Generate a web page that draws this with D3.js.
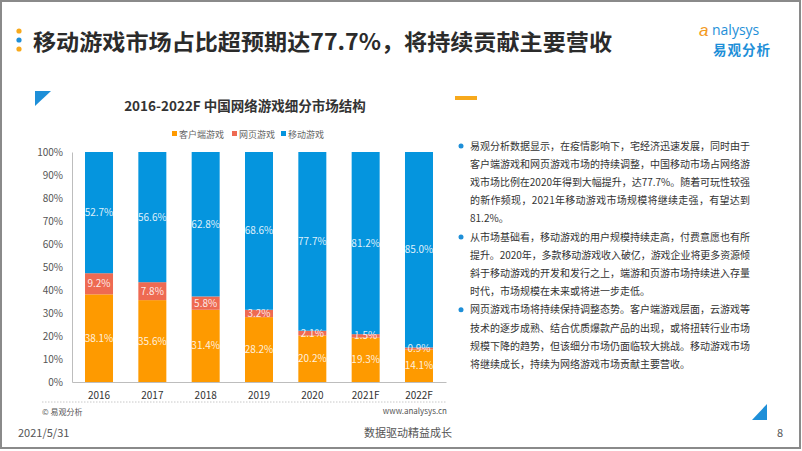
<!DOCTYPE html>
<html><head><meta charset="utf-8">
<script src="https://cdn.jsdelivr.net/npm/d3@7"></script>
<style>
html,body{margin:0;padding:0;background:#fff;}
svg{display:block;font-family:"Noto Sans CJK SC","Noto Sans",sans-serif;}
</style></head>
<body><svg id="c" width="802" height="451"></svg>
<script>
const categories = ["2016","2017","2018","2019","2020","2021F","2022F"];
const seriesNames = ["客户端游戏","网页游戏","移动游戏"];
const clientGame = [38.1,35.6,31.4,28.2,20.2,19.3,14.1];
const webGame = [9.2,7.8,5.8,3.2,2.1,1.5,0.9];
const mobileGame = [52.7,56.6,62.8,68.6,77.7,81.2,85.0];
const yTicks = [0,10,20,30,40,50,60,70,80,90,100];
const colors = ["#FE9A00","#EE6A52","#0595DE"];
const mainTitle = "移动游戏市场占比超预期达77.7%，将持续贡献主要营收";
const chartTitle = "2016-2022F 中国网络游戏细分市场结构";
const bulletLines = [
  {b:true, full:true, t:"易观分析数据显示，在疫情影响下，宅经济迅速发展，同时由于"},
  {b:false, full:true, t:"客户端游戏和网页游戏市场的持续调整，中国移动市场占网络游"},
  {b:false, full:true, t:"戏市场比例在2020年得到大幅提升，达77.7%。随着可玩性较强"},
  {b:false, full:true, t:"的新作频现，2021年移动游戏市场规模将继续走强，有望达到"},
  {b:false, full:false, t:"81.2%。"},
  {b:true, full:true, t:"从市场基础看，移动游戏的用户规模持续走高，付费意愿也有所"},
  {b:false, full:true, t:"提升。2020年，多款移动游戏收入破亿，游戏企业将更多资源倾"},
  {b:false, full:true, t:"斜于移动游戏的开发和发行之上，端游和页游市场持续进入存量"},
  {b:false, full:false, t:"时代，市场规模在未来或将进一步走低。"},
  {b:true, full:true, t:"网页游戏市场将持续保持调整态势。客户端游戏层面，云游戏等"},
  {b:false, full:true, t:"技术的逐步成熟、结合优质爆款产品的出现，或将扭转行业市场"},
  {b:false, full:true, t:"规模下降的趋势，但该细分市场仍面临较大挑战。移动游戏市场"},
  {b:false, full:false, t:"将继续成长，持续为网络游戏市场贡献主要营收。"}
];

const svg = d3.select("#c");

// frame
svg.append("rect").attr("x",1).attr("y",1).attr("width",799).attr("height",447)
  .attr("fill","none").attr("stroke","#8a8a8a").attr("stroke-width",2);

// title dots
[["#F7A91C",31],["#1E8FD8",40],["#F7A91C",49]].forEach(d=>{
  svg.append("circle").attr("cx",19).attr("cy",d[1]).attr("r",2.6).attr("fill",d[0]);
});
svg.append("text").attr("x",33).attr("y",50).attr("font-size",22).attr("font-weight","bold")
  .attr("fill","#2b2b2b").attr("textLength",579).attr("lengthAdjust","spacingAndGlyphs").text(mainTitle);

// logo
const logo = svg.append("g");
logo.append("text").attr("x",699).attr("y",36).attr("font-size",17).attr("fill","#F39A1E")
  .attr("font-family","Liberation Sans").attr("font-style","italic").text("a");
logo.append("text").attr("x",712).attr("y",35).attr("font-size",14).attr("fill","#1E8FD8")
  .attr("font-family","Open Sans, sans-serif").text("nalysys");
logo.append("text").attr("x",713).attr("y",55).attr("font-size",13.5).attr("fill","#1E8FD8")
  .attr("font-weight","bold").attr("letter-spacing",1).text("易观分析");

// decorations
svg.append("path").attr("d","M35,91 L51,91 L35,106 Z").attr("fill","#1E8FD8");
svg.append("rect").attr("x",455).attr("y",96).attr("width",22).attr("height",4).attr("fill","#F7A91C");
svg.append("path").attr("d","M752,420 L767,404 L767,420 Z").attr("fill","#1E8FD8");

// chart title
svg.append("text").attr("x",245).attr("y",111).attr("text-anchor","middle")
  .attr("font-size",13.5).attr("font-weight","bold").attr("fill","#333").text(chartTitle);

// legend
const legX = [172,232,281];
seriesNames.forEach((n,i)=>{
  svg.append("rect").attr("x",legX[i]).attr("y",131).attr("width",5).attr("height",5).attr("fill",colors[i]);
  svg.append("text").attr("x",legX[i]+7).attr("y",137.5).attr("font-size",9).attr("fill","#666").text(n);
});

// scales
const x = d3.scaleBand().domain(categories).range([72,446]).paddingInner(0.475).paddingOuter(0.244);
const y = d3.scaleLinear().domain([0,100]).range([382,152]).clamp(true);

// y axis
const yAxis = svg.append("g").attr("transform","translate(72,0)")
  .call(d3.axisLeft(y).tickValues(yTicks).tickSize(0).tickPadding(9).tickFormat(d=>d+"%"));
yAxis.select(".domain").attr("stroke","#bdbdbd");
yAxis.selectAll("text").attr("font-size",10).attr("fill","#555").attr("font-family","Noto Sans CJK SC");

// x axis
const xAxis = svg.append("g").attr("transform","translate(0,382)")
  .call(d3.axisBottom(x).tickSize(0).tickPadding(10));
xAxis.select(".domain").attr("stroke","#bdbdbd");
xAxis.selectAll("text").attr("font-size",10).attr("fill","#333").attr("font-family","Noto Sans CJK SC");

// stacked bars
const rows = categories.map((c,i)=>({cat:c, s0:clientGame[i], s1:webGame[i], s2:mobileGame[i]}));
const stack = d3.stack().keys(["s0","s1","s2"])(rows);
const barG = svg.append("g");
stack.forEach((layer,li)=>{
  layer.forEach(d=>{
    const y0 = y(d[0]), y1 = y(d[1]);
    barG.append("rect").attr("x",x(d.data.cat)).attr("width",x.bandwidth())
      .attr("y",y1).attr("height",Math.max(0,y0-y1)).attr("fill",colors[li]);
  });
});
stack.forEach((layer,li)=>{
  layer.forEach(d=>{
    const y0 = y(d[0]), y1 = y(d[1]);
    const v = d.data[layer.key];
    barG.append("text").attr("x",x(d.data.cat)+x.bandwidth()/2).attr("y",(y0+y1)/2+3.5)
      .attr("text-anchor","middle").attr("font-size",10).attr("fill","#ffffff").attr("fill-opacity",0.88)
      .text(v.toFixed(1)+"%");
  });
});

// dashed separator & source
svg.append("line").attr("x1",42).attr("x2",447).attr("y1",402).attr("y2",402)
  .attr("stroke","#c8c8c8").attr("stroke-dasharray","1.5,1.5");
svg.append("text").attr("x",42).attr("y",415).attr("font-size",8).attr("fill","#555").text("© 易观分析");
svg.append("text").attr("x",447).attr("y",414).attr("text-anchor","end").attr("font-size",8)
  .attr("fill","#555").text("www.analysys.cn");

// right text
bulletLines.forEach((l,i)=>{
  const cy = 146 + i*18.2;
  if(l.b) svg.append("circle").attr("cx",461).attr("cy",cy).attr("r",2.5).attr("fill","#1E8FD8");
  const t = svg.append("text").attr("x",470).attr("y",cy+3.6).attr("font-size",10).attr("fill","#333").text(l.t);
  if(l.full) t.attr("textLength",280).attr("lengthAdjust","spacing");
});

// footer
svg.append("text").attr("x",18).attr("y",437).attr("font-size",11).attr("fill","#555").text("2021/5/31");
svg.append("text").attr("x",408).attr("y",437).attr("text-anchor","middle").attr("font-size",11).attr("fill","#555").text("数据驱动精益成长");
svg.append("text").attr("x",777).attr("y",437).attr("font-size",11).attr("fill","#555").text("8");
</script></body></html>
